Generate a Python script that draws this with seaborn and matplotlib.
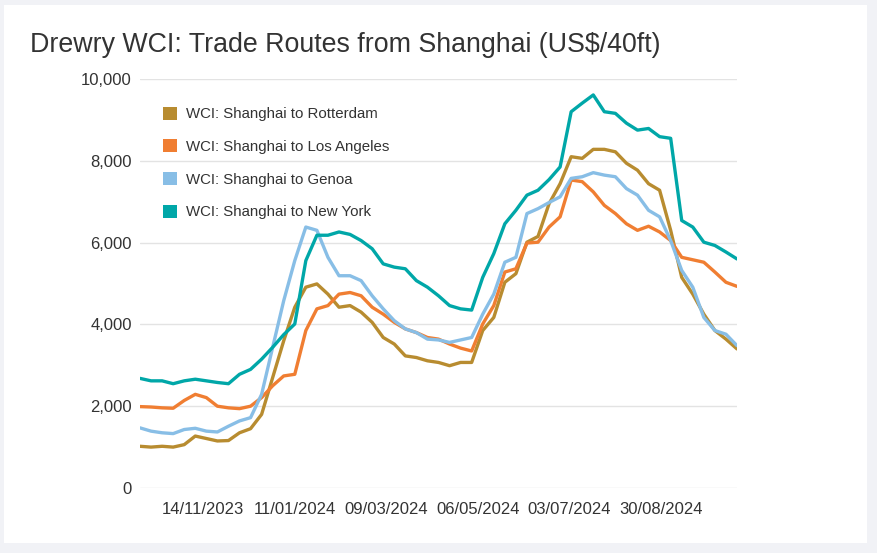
import numpy as np
import pandas as pd
import seaborn as sns
import matplotlib.pyplot as plt
import matplotlib.dates as mdates
from matplotlib.patches import Rectangle
from matplotlib.ticker import FuncFormatter

sns.set_style("white")
plt.rcParams['font.family'] = ['Liberation Sans', 'DejaVu Sans']

# weekly WCI readings, US$ per 40ft container
dates = pd.date_range("2023-10-05", periods=55, freq="7D")

rotterdam = [1020, 1000, 1020, 1000, 1060, 1270, 1210, 1150, 1160, 1350,
             1450, 1800, 2700, 3600, 4420, 4910, 4990, 4740, 4420, 4460,
             4300, 4050, 3680, 3520, 3230, 3190, 3110, 3070, 2990, 3070,
             3070, 3850, 4170, 5030, 5240, 6010, 6150, 6950, 7440, 8100,
             8060, 8280, 8280, 8220, 7940, 7770, 7440, 7280, 6300, 5150,
             4740, 4250, 3850, 3640, 3400]
los_angeles = [1990, 1980, 1960, 1950, 2140, 2290, 2210, 2000, 1960, 1940,
               2000, 2210, 2500, 2740, 2780, 3850, 4380, 4460, 4740, 4780,
               4700, 4420, 4250, 4050, 3890, 3800, 3680, 3640, 3520, 3420,
               3350, 4010, 4460, 5280, 5360, 5990, 6010, 6380, 6630, 7530,
               7490, 7240, 6910, 6710, 6460, 6300, 6400, 6260, 6050, 5640,
               5580, 5520, 5280, 5030, 4930]
genoa = [1470, 1390, 1350, 1330, 1430, 1460, 1390, 1370, 1510, 1640,
         1720, 2290, 3440, 4580, 5560, 6380, 6300, 5640, 5190, 5190,
         5070, 4700, 4380, 4090, 3890, 3800, 3640, 3620, 3560, 3620,
         3680, 4250, 4740, 5520, 5640, 6710, 6830, 6980, 7120, 7570,
         7610, 7710, 7650, 7610, 7320, 7160, 6790, 6630, 6050, 5320,
         4910, 4170, 3850, 3760, 3480]
new_york = [2680, 2620, 2620, 2550, 2620, 2660, 2620, 2580, 2550, 2780,
            2900, 3150, 3440, 3750, 4010, 5560, 6180, 6180, 6260, 6200,
            6050, 5850, 5480, 5400, 5360, 5070, 4910, 4700, 4460, 4380,
            4350, 5150, 5730, 6460, 6790, 7160, 7280, 7540, 7850, 9200,
            9410, 9610, 9200, 9160, 8920, 8750, 8790, 8590, 8550, 6540,
            6380, 6010, 5930, 5770, 5600]

routes = ["WCI: Shanghai to Rotterdam", "WCI: Shanghai to Los Angeles",
          "WCI: Shanghai to Genoa", "WCI: Shanghai to New York"]
colors = ["#B88C30", "#F07E32", "#88BEE6", "#00A7A8"]
tick_dates = ["2023-11-14", "2024-01-11", "2024-03-09", "2024-05-06",
              "2024-07-03", "2024-08-30"]

df = pd.DataFrame({"date": np.tile(dates, 4),
                   "route": np.repeat(routes, len(dates)),
                   "value": rotterdam + los_angeles + genoa + new_york})

fig = plt.figure(figsize=(8.77, 5.53), dpi=100)
fig.patch.set_facecolor("#F1F2F6")
fig.patches.append(Rectangle((4 / 877, 1 - 543 / 553), 863 / 877, 538 / 553,
                             transform=fig.transFigure, facecolor="white",
                             edgecolor="none", zorder=-5))

ax = fig.add_axes([140 / 877, 1 - 488 / 553, 597 / 877, 409 / 553])
ax.set_facecolor("none")
sns.lineplot(data=df, x="date", y="value", hue="route", hue_order=routes,
             palette=colors, linewidth=2.4, ax=ax)
for ln in ax.lines:
    ln.set_solid_joinstyle("round")
    ln.set_solid_capstyle("round")

ax.set_xlim(dates[0], dates[-1])
ax.set_ylim(0, 10000)
ax.set_yticks(range(0, 10001, 2000))
ax.yaxis.set_major_formatter(FuncFormatter(lambda v, p: f"{int(v):,}"))
ax.set_xticks(pd.to_datetime(tick_dates))
ax.xaxis.set_major_formatter(mdates.DateFormatter("%d/%m/%Y"))
ax.tick_params(axis="both", length=0, labelsize=12, colors="#333333")
ax.tick_params(axis="y", pad=6)
ax.tick_params(axis="x", pad=10)
ax.grid(axis="y", color="#E3E3E3", linewidth=1)
ax.set_axisbelow(True)
ax.set_xlabel("")
ax.set_ylabel("")
for s in ax.spines.values():
    s.set_visible(False)

handles = [Rectangle((0, 0), 1, 1, facecolor=c, edgecolor="none") for c in colors]
ax.legend(handles, routes, loc="upper left", bbox_to_anchor=(23 / 597, 0.932),
          frameon=False, fontsize=10.8, labelcolor="#333333",
          borderpad=0, borderaxespad=0,
          handlelength=0.95, handleheight=0.95, handletextpad=0.55,
          labelspacing=1.2)

fig.text(30 / 877, 1 - 45 / 553, "Drewry WCI: Trade Routes from Shanghai (US$/40ft)",
         fontsize=19.3, color="#333333", va="center", ha="left")

fig.savefig("out.png", dpi=100, facecolor=fig.get_facecolor())
